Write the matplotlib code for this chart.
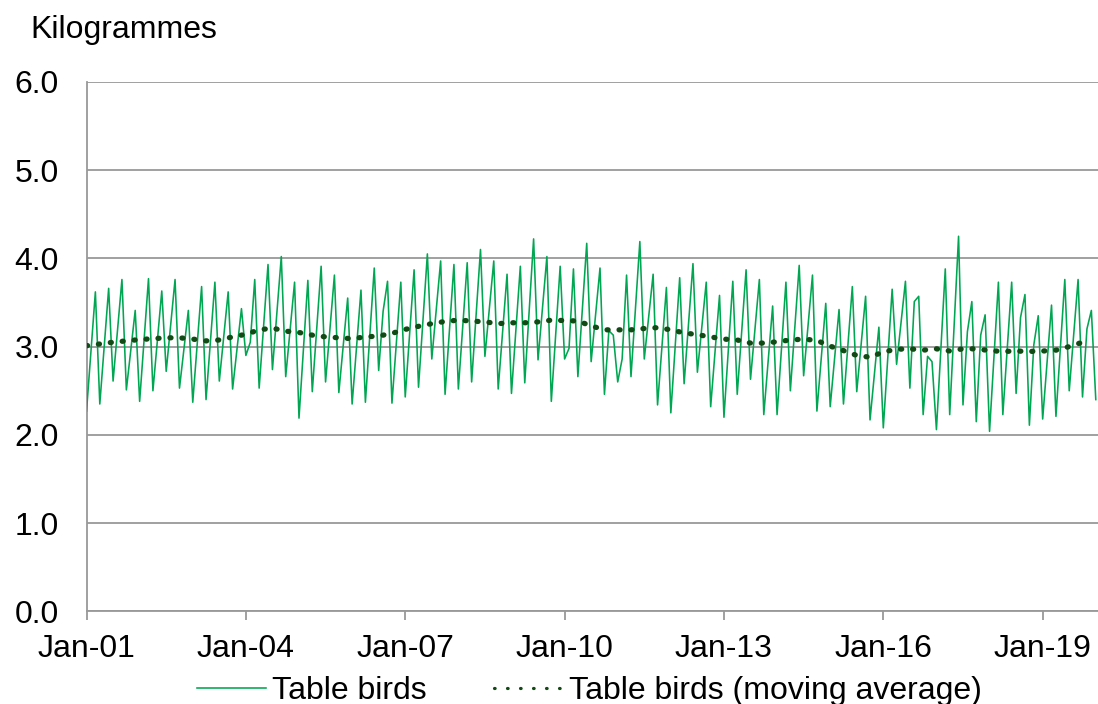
"""Table birds monthly series with its moving average (kilogrammes)."""

import matplotlib
matplotlib.use("Agg")
import matplotlib.pyplot as plt
from matplotlib.lines import Line2D
import numpy as np

# monthly values, Jan-01 .. Jan-20 (one row per year)
TABLE_BIRDS = [
    2.27, 2.95, 3.62, 2.35, 3.00, 3.66, 2.61, 3.19, 3.76, 2.51, 2.96, 3.41,
    2.38, 3.08, 3.77, 2.50, 3.07, 3.63, 2.72, 3.24, 3.76, 2.53, 2.97, 3.41,
    2.37, 3.03, 3.68, 2.40, 3.07, 3.73, 2.61, 3.12, 3.62, 2.52, 2.98, 3.43,
    2.90, 3.05, 3.76, 2.53, 3.23, 3.93, 2.74, 3.38, 4.02, 2.66, 3.20, 3.73,
    2.19, 2.97, 3.75, 2.49, 3.20, 3.91, 2.60, 3.20, 3.81, 2.48, 3.02, 3.55,
    2.35, 3.00, 3.64, 2.37, 3.13, 3.89, 2.73, 3.40, 3.74, 2.36, 3.05, 3.73,
    2.43, 3.15, 3.87, 2.54, 3.30, 4.05, 2.86, 3.42, 3.97, 2.46, 3.20, 3.93,
    2.52, 3.24, 3.95, 2.60, 3.35, 4.10, 2.89, 3.43, 3.97, 2.52, 3.17, 3.82,
    2.47, 3.19, 3.91, 2.59, 3.41, 4.22, 2.85, 3.44, 4.02, 2.38, 3.15, 3.91,
    2.86, 2.98, 3.88, 2.66, 3.42, 4.17, 2.83, 3.36, 3.89, 2.46, 3.18, 3.13,
    2.60, 2.86, 3.81, 2.66, 3.43, 4.19, 2.86, 3.34, 3.82, 2.34, 3.01, 3.67,
    2.25, 3.02, 3.78, 2.58, 3.26, 3.94, 2.71, 3.22, 3.73, 2.32, 2.95, 3.58,
    2.20, 2.97, 3.74, 2.46, 3.17, 3.87, 2.63, 3.20, 3.76, 2.23, 2.85, 3.46,
    2.23, 2.98, 3.73, 2.50, 3.21, 3.92, 2.67, 3.24, 3.81, 2.27, 2.88, 3.49,
    2.32, 2.87, 3.42, 2.35, 3.02, 3.68, 2.49, 3.03, 3.57, 2.17, 2.70, 3.22,
    2.08, 2.87, 3.65, 2.80, 3.27, 3.74, 2.53, 3.51, 3.57, 2.23, 2.89, 2.83,
    2.06, 2.97, 3.88, 2.23, 3.24, 4.25, 2.34, 3.17, 3.51, 2.15, 3.13, 3.36,
    2.04, 2.89, 3.73, 2.23, 2.98, 3.73, 2.47, 3.33, 3.59, 2.11, 3.02, 3.35,
    2.18, 2.83, 3.47, 2.21, 2.99, 3.76, 2.50, 3.13, 3.76, 2.43, 3.20, 3.41,
    2.40,
]

# moving average, read every third month (months since Jan-01)
MA_MONTHS = list(range(0, 226, 3)) + [226]
MOVING_AVERAGE = [
    3.01, 3.03, 3.05, 3.065, 3.08, 3.09, 3.10, 3.10, 3.085, 3.065,
    3.075, 3.11, 3.14, 3.19, 3.21, 3.175, 3.16, 3.13, 3.11, 3.10,
    3.09, 3.11, 3.12, 3.15, 3.195, 3.23, 3.26, 3.285, 3.30, 3.29,
    3.28, 3.26, 3.27, 3.27, 3.28, 3.30, 3.295, 3.29, 3.235, 3.19,
    3.19, 3.19, 3.205, 3.215, 3.19, 3.155, 3.135, 3.11, 3.085, 3.075,
    3.04, 3.04, 3.055, 3.075, 3.085, 3.07, 3.005, 2.955, 2.90, 2.88,
    2.94, 2.97, 2.975, 2.96, 2.975, 2.95, 2.975, 2.975, 2.955, 2.945,
    2.95, 2.945, 2.95, 2.96, 3.00, 3.05,
    2.99,
]

TICK_MONTHS = [0, 36, 72, 108, 144, 180, 216]
TICK_LABELS = ["Jan-01", "Jan-04", "Jan-07", "Jan-10", "Jan-13", "Jan-16", "Jan-19"]
Y_TICKS = [0.0, 1.0, 2.0, 3.0, 4.0, 5.0, 6.0]

LINE_COLOR = "#00A651"
MA_COLOR = "#124A16"
GRID_COLOR = "#999999"
FONT_SIZE = 23


def main() -> None:
    plt.rcParams["font.family"] = ["Liberation Sans", "DejaVu Sans"]
    fig = plt.figure(figsize=(10.98, 7.04), dpi=100)
    ax = fig.add_axes([0.0788, 0.1314, 0.9212, 0.7525])

    months = np.arange(len(TABLE_BIRDS))
    ax.plot(months, TABLE_BIRDS, color=LINE_COLOR, lw=1.15, zorder=3)
    # thick round-dot line, one dot roughly every 12 px
    ax.plot(MA_MONTHS, MOVING_AVERAGE, color=MA_COLOR, lw=3.8,
            linestyle=(0, (0.2, 2.07)), dash_capstyle="round", zorder=4)

    ax.set_xlim(0, 228.5)
    ax.set_ylim(0, 6)
    ax.set_yticks(Y_TICKS)
    ax.set_yticklabels([f"{v:.1f}" for v in Y_TICKS])
    ax.set_xticks(TICK_MONTHS)
    ax.set_xticklabels(TICK_LABELS)

    ax.grid(axis="y", color=GRID_COLOR, lw=1.3)
    ax.set_axisbelow(True)
    for side in ("top", "right"):
        ax.spines[side].set_visible(False)
    for side in ("left", "bottom"):
        ax.spines[side].set_color(GRID_COLOR)
        ax.spines[side].set_linewidth(1.3)
    ax.tick_params(axis="y", length=0, pad=20, labelsize=FONT_SIZE)
    ax.tick_params(axis="x", length=6.5, width=1.3, color=GRID_COLOR,
                   pad=10, labelsize=FONT_SIZE)

    fig.text(30 / 1098, 1 - 30 / 704, "Kilogrammes", fontsize=FONT_SIZE,
             ha="left", va="center")

    handles = [
        Line2D([], [], color=LINE_COLOR, lw=1.15),
        Line2D([], [], color=MA_COLOR, lw=2.3, linestyle=(0, (0.2, 3.87)),
               dash_capstyle="round"),
    ]
    labels = ["Table birds", "Table birds (moving average)"]
    fig.legend(handles, labels, loc="center", bbox_to_anchor=(0.537, 1 - 691 / 704),
               ncol=2, frameon=False, fontsize=FONT_SIZE, handlelength=2.15,
               handletextpad=0.2, columnspacing=2.1, borderpad=0.0)

    fig.savefig("out.png", dpi=100)
    plt.close(fig)


if __name__ == "__main__":
    main()
